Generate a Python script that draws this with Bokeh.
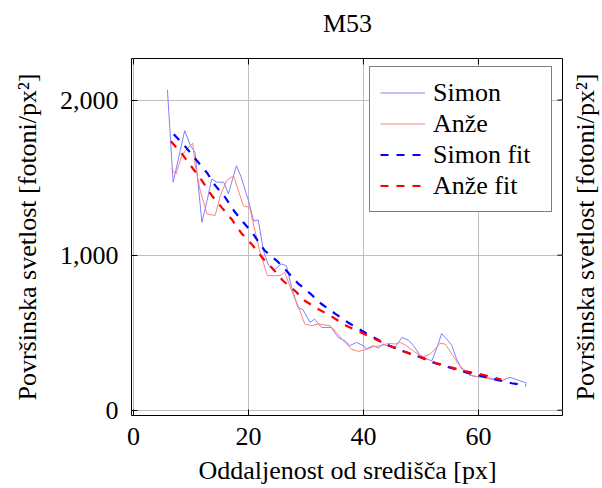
from bokeh.plotting import figure
from bokeh.layouts import row
from bokeh.models import Range1d, FixedTicker, NumeralTickFormatter, Legend, LegendItem, Title, LinearAxis
from bokeh.embed import file_html
from bokeh.resources import INLINE

# ---- data ----
simon_x = [5.9, 6.9, 8.9, 9.9, 10.7, 11.9, 12.8, 13.6, 14.5, 15.7, 16.5, 17.9, 18.7, 20.0, 20.9,
           21.7, 22.6, 23.4, 24.3, 25.7, 26.6, 27.5, 28.6, 29.5, 30.7, 31.5, 32.7, 34.4, 35.6,
           36.8, 37.6, 38.8, 40.0, 40.5, 41.7, 42.6, 43.4, 44.0, 45.5, 46.7, 47.8, 48.7, 49.9,
           51.0, 51.9, 52.8, 53.6, 54.5, 55.4, 56.2, 57.1, 58.5, 59.7, 61.2, 62.6, 64.0, 65.5, 68.4]
simon_y = [2066, 1470, 1803, 1706, 1663, 1212, 1352, 1491, 1470, 1470, 1395, 1577, 1506, 1352, 1220,
           1227, 1030, 943, 900, 943, 932, 792, 663, 648, 566, 588, 534, 534, 470,
           448, 416, 437, 416, 395, 416, 401, 427, 416, 405, 470, 453, 416, 352,
           330, 319, 405, 494, 459, 416, 330, 266, 225, 216, 212, 201, 190, 212, 175]

anze_x = [6.5, 7.4, 8.4, 9.3, 10.3, 10.7, 11.6, 12.8, 14.2, 15.1, 16.2, 17.4, 19.1, 20.2, 22.0,
          23.3, 25.5, 26.3, 27.5, 28.6, 29.8, 31.0, 32.1, 34.2, 35.3, 36.5, 37.9, 39.1, 40.2,
          41.7, 43.1, 44.3, 45.5, 46.4, 47.5, 49.0, 50.4, 51.6, 52.5, 53.3, 54.2, 55.4, 56.5,
          57.7, 58.9, 60.6, 62.0, 63.5, 64.3]
anze_y = [1556, 1524, 1642, 1685, 1722, 1588, 1416, 1266, 1255, 1384, 1481, 1513, 1319, 1308, 1018,
          868, 868, 889, 771, 674, 556, 545, 556, 545, 502, 448, 395, 379, 388,
          410, 416, 431, 427, 437, 416, 373, 345, 362, 395, 431, 427, 362, 298,
          255, 223, 212, 201, 195, 190]

simon_fit_x = [7.0, 9.0, 11.0, 12.8, 14.2, 15.9, 17.5, 19.1, 20.8, 22.8, 24.9, 26.6, 28.6, 30.7,
               32.7, 35.0, 37.3, 39.7, 42.3, 44.4, 47.3, 49.9, 52.5, 55.1, 57.7, 60.3, 63.2, 65.8, 68.3]
simon_fit_y = [1780, 1700, 1610, 1530, 1450, 1375, 1285, 1212, 1137, 1030, 965, 900, 818, 754,
               685, 625, 566, 513, 459, 418, 375, 342, 303, 274, 246, 223, 196, 174, 160]

anze_fit_x = [6.5, 8.4, 10.2, 11.9, 13.6, 15.4, 17.1, 18.8, 20.8, 22.6, 24.3, 26.0, 28.1, 29.8,
              32.1, 34.7, 37.0, 39.4, 42.0, 44.4, 47.3, 49.9, 52.5, 55.1, 57.7, 60.6, 63.2, 64.0]
anze_fit_y = [1735, 1655, 1565, 1480, 1385, 1305, 1230, 1140, 1060, 975, 910, 835, 770, 706,
              653, 599, 545, 505, 459, 418, 375, 342, 305, 278, 252, 230, 205, 198]

x_ticks = [0, 20, 40, 60]
y_ticks = [0, 1000, 2000]

title_text = "M53"
x_label = "Oddaljenost od središča [px]"
y_label = "Površinska svetlost [fotoni/px²]"
series_labels = ["Simon", "Anže", "Simon fit", "Anže fit"]

FONT = "Liberation Serif"
FS = "26px"

X0, X1 = -0.35, 74.8
Y0, Y1 = -34, 2268
BL, BT, BB = 131, 58, 73
W, H = 602, 488
W2 = 39            # narrow strip holding the right-hand axis title
W1 = W - W2
BR = 0
TICK = 6  # px

p = figure(width=W1, height=H, output_backend="svg", toolbar_location=None,
           x_range=Range1d(X0, X1), y_range=Range1d(Y0, Y1),
           min_border_left=BL, min_border_right=BR, min_border_top=BT, min_border_bottom=BB)

# chart title carried by a tick-less axis above the box
top = LinearAxis(ticker=FixedTicker(ticks=[]), axis_label=title_text)
p.add_layout(top, "above")

p.xaxis.ticker = FixedTicker(ticks=x_ticks)
top.ticker = FixedTicker(ticks=[])
p.yaxis.ticker = FixedTicker(ticks=y_ticks)
p.yaxis.formatter = NumeralTickFormatter(format="0,0")
p.xgrid.ticker = FixedTicker(ticks=x_ticks)
p.ygrid.ticker = FixedTicker(ticks=y_ticks)

for ax in list(p.xaxis) + list(p.yaxis):
    ax.major_tick_in = TICK
    ax.major_tick_out = 0
    ax.minor_tick_in = 0
    ax.minor_tick_out = 0
    ax.axis_line_color = None
    ax.major_tick_line_color = "black"
    ax.major_label_text_font = FONT
    ax.major_label_text_font_size = FS
    ax.major_label_text_color = "black"
    ax.axis_label_text_font = FONT
    ax.axis_label_text_font_size = FS
    ax.axis_label_text_font_style = "normal"
    ax.axis_label_text_color = "black"

top.major_label_standoff = 0
top.axis_label_standoff = 21

left = p.left[0]
left.axis_label = y_label
left.major_label_standoff = 13
left.axis_label_standoff = 15

bottom = p.below[0]
bottom.axis_label = x_label
bottom.major_label_standoff = 12
bottom.axis_label_standoff = 8

p.grid.grid_line_color = "#bfbfbf"
p.grid.grid_line_width = 1
p.outline_line_color = "black"
p.outline_line_width = 1
p.background_fill_color = "white"

# inward tick marks on the top and right sides of the box
fw = W1 - BL - BR
fh = H - BT - BB
dx = TICK * (X1 - X0) / fw
dy = TICK * (Y1 - Y0) / fh
p.segment(x0=x_ticks, y0=[Y1] * len(x_ticks), x1=x_ticks, y1=[Y1 - dy] * len(x_ticks),
          line_color="black", line_width=1)
p.segment(x0=[X1] * len(y_ticks), y0=y_ticks, x1=[X1 - dx] * len(y_ticks), y1=y_ticks,
          line_color="black", line_width=1)

r1 = p.line(simon_x, simon_y, line_color="#8080ff", line_width=1)
r2 = p.line(anze_x, anze_y, line_color="#ff8080", line_width=1)
r3 = p.line(simon_fit_x, simon_fit_y, line_color="#0000ff", line_width=2.2, line_dash="8 8")
r4 = p.line(anze_fit_x, anze_fit_y, line_color="#ff0000", line_width=2.2, line_dash="8 8")

legend = Legend(items=[LegendItem(label=series_labels[0], renderers=[r1]),
                       LegendItem(label=series_labels[1], renderers=[r2]),
                       LegendItem(label=series_labels[2], renderers=[r3]),
                       LegendItem(label=series_labels[3], renderers=[r4])],
                location=(238, 203))
legend.border_line_color = "black"
legend.border_line_width = 1
legend.background_fill_color = "white"
legend.background_fill_alpha = 1
legend.padding = 10
legend.spacing = 0
legend.margin = 0
legend.glyph_width = 45
legend.glyph_height = 31
legend.label_height = 31
legend.label_width = 108
legend.label_standoff = 8
legend.label_text_font = FONT
legend.label_text_font_size = FS
legend.label_text_color = "black"
p.add_layout(legend, "center")

# narrow companion figure: carries the right-hand axis title, reading bottom to top
p2 = figure(width=W2, height=H, output_backend="svg", toolbar_location=None,
            x_axis_location=None, y_axis_location=None,
            x_range=Range1d(0, 1), y_range=Range1d(0, 1),
            min_border_left=W2 - 2, min_border_right=0, min_border_top=BT, min_border_bottom=BB)
p2.outline_line_color = None
p2.grid.visible = False
p2.background_fill_color = "white"
rt = Title(text=y_label, text_font=FONT, text_font_size=FS, text_font_style="normal",
           text_color="black", align="center", standoff=2)
p2.add_layout(rt, "left")

layout = row(p, p2, spacing=0)
open("out.html", "w").write(file_html(layout, INLINE))
